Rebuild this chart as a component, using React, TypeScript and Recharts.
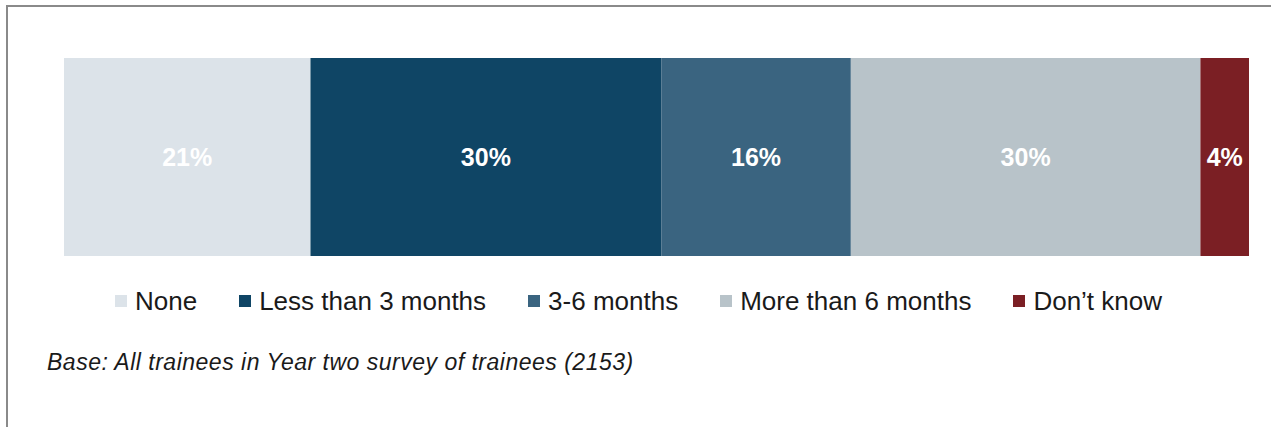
import React from 'react';
import { BarChart, Bar, XAxis, YAxis, LabelList } from 'recharts';

// One stacked bar: length of break from training, share of trainees (%)
const seriesKeys = ['none', 'lt3', 'm3to6', 'gt6', 'dk'];
const seriesNames = ['None', 'Less than 3 months', '3-6 months', 'More than 6 months', 'Don\u2019t know'];
const seriesValues = [20.8, 29.6, 16.0, 29.5, 4.1];
const seriesColors = ['#dce3e9', '#0f4565', '#3a6480', '#b8c3c9', '#7b1f24'];
const footnote = 'Base: All trainees in Year two survey of trainees (2153)';

const row: Record<string, any> = { name: 'All trainees' };
seriesKeys.forEach((k, i) => {
  row[k] = seriesValues[i];
});
const data = [row];

const FONT = '"Liberation Sans", Arial, Helvetica, sans-serif';

const App: React.FC = () => {
  return (
    <div
      style={{
        position: 'absolute',
        left: 0,
        top: 0,
        width: 1271,
        height: 427,
        background: '#ffffff',
        overflow: 'hidden',
        fontFamily: FONT,
      }}
    >
      {/* frame: only top and left edges show in the crop */}
      <div
        style={{
          position: 'absolute',
          left: 6,
          top: 5,
          width: 1300,
          height: 440,
          borderTop: '2px solid #8a8a8a',
          borderLeft: '2px solid #8a8a8a',
        }}
      />

      <div style={{ position: 'absolute', left: 0, top: 0 }}>
        <BarChart
          width={1271}
          height={270}
          data={data}
          layout="vertical"
          margin={{ top: 58, right: 22, bottom: 14, left: 64 }}
          barCategoryGap={0}
        >
          <XAxis type="number" domain={[0, 100]} hide />
          <YAxis type="category" dataKey="name" hide width={0} />
          {seriesKeys.map((k, i) => (
            <Bar
              key={k}
              dataKey={k}
              name={seriesNames[i]}
              stackId="a"
              fill={seriesColors[i]}
              isAnimationActive={false}
            >
              <LabelList
                dataKey={k}
                position="center"
                formatter={(v: any) => `${Math.round(Number(v))}%`}
                fill="#ffffff"
                style={{ fontFamily: FONT, fontWeight: 700, fontSize: 25 }}
              />
            </Bar>
          ))}
        </BarChart>
      </div>

      {/* legend */}
      <div
        style={{
          position: 'absolute',
          left: 115,
          top: 286,
          display: 'flex',
          alignItems: 'center',
          gap: 42,
          fontSize: 26,
          lineHeight: '30px',
          color: '#1a1a1a',
          whiteSpace: 'nowrap',
        }}
      >
        {seriesNames.map((n, i) => (
          <div key={n} style={{ display: 'flex', alignItems: 'center' }}>
            <span
              style={{
                display: 'inline-block',
                width: 12,
                height: 12,
                background: seriesColors[i],
                marginRight: 8,
              }}
            />
            <span>{n}</span>
          </div>
        ))}
      </div>

      {/* base note */}
      <div
        style={{
          position: 'absolute',
          left: 47,
          top: 348,
          fontSize: 23,
          lineHeight: '28px',
          fontStyle: 'italic',
          color: '#1a1a1a',
          whiteSpace: 'nowrap',
          letterSpacing: 0.5,
        }}
      >
        {footnote}
      </div>
    </div>
  );
};

export default App;
